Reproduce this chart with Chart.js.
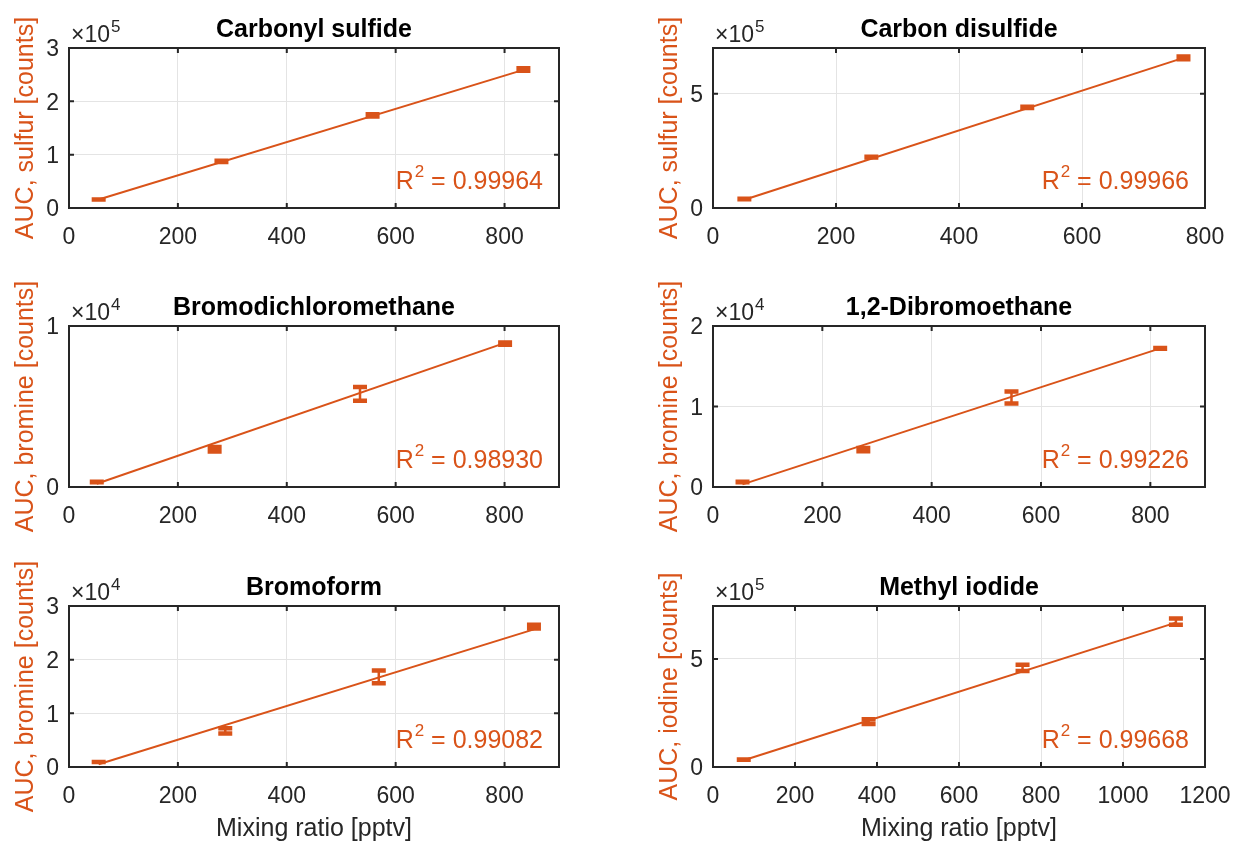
<!DOCTYPE html>
<html>
<head>
<meta charset="utf-8">
<script src="https://cdn.jsdelivr.net/npm/chart.js@4.4.1/dist/chart.umd.min.js"></script>
<style>
  body { margin: 0; background: #fff; overflow: hidden; }
  #fig { position: relative; width: 1235px; height: 843px; }
  #fig canvas { position: absolute; }
</style>
</head>
<body>
<div id="fig"></div>
<script>
//----------data (x in pptv, y in counts)

// tick labels
const xTicks900 = [0, 200, 400, 600, 800];
const xTicks800 = [0, 200, 400, 600, 800];
const xTicks1200 = [0, 200, 400, 600, 800, 1000, 1200];

// carbonyl sulfide
const cosX = [54.5, 280, 557.6, 834.6];
const cosY = [15900, 87400, 173500, 259500];
const cosErr = [100, 1100, 2050, 2330];
const cosFitX = [54.5, 834.6];
const cosFitY = [15800, 259000];
const cosYTicks = [0, 100000, 200000, 300000];

// carbon disulfide
const cs2X = [51, 257.5, 511, 765];
const cs2Y = [39000, 223000, 440000, 657000];
const cs2Err = [1100, 1700, 2600, 6100];
const cs2FitX = [51, 765];
const cs2FitY = [36000, 657000];
const cs2YTicks = [0, 500000];

// bromodichloromethane
const bdcmX = [51, 267.5, 534.5, 801];
const bdcmY = [310, 2340, 5790, 8910];
const bdcmErr = [16, 140, 428, 68];
const bdcmFitX = [51, 801];
const bdcmFitY = [200, 8950];
const bdcmYTicks = [0, 10000];

// 1,2-dibromoethane
const dbeX = [54, 275, 546, 818];
const dbeY = [620, 4650, 11120, 17220];
const dbeErr = [31, 199, 733, 50];
const dbeFitX = [54, 818];
const dbeFitY = [330, 17220];
const dbeYTicks = [0, 10000, 20000];

// bromoform
const bromX = [54.5, 287, 569, 854];
const bromY = [930, 6720, 16800, 26140];
const bromErr = [19, 484, 1192, 354];
const bromFitX = [54.5, 854];
const bromFitY = [500, 25640];
const bromYTicks = [0, 10000, 20000, 30000];

// methyl iodide
const meiX = [75, 379.5, 755, 1129];
const meiY = [34000, 210000, 459000, 673000];
const meiErr = [200, 11100, 14400, 14400];
const meiFitX = [75, 1129];
const meiFitY = [31000, 668000];
const meiYTicks = [0, 500000];

const orange = '#D95319';
const dark = '#262626';
const gridCol = '#e4e4e4';
const fontFam = "'Liberation Sans', Arial, Helvetica, sans-serif";
Chart.defaults.font.family = fontFam;

const panels = [
  {title: 'Carbonyl sulfide', ylab: 'AUC, sulfur [counts]', x: cosX, y: cosY, err: cosErr, fitX: cosFitX, fitY: cosFitY,
   xmax: 900, xticks: xTicks900, ymax: 300000, yticks: cosYTicks, exp: 5, r2: '0.99964', col: 0, row: 0},
  {title: 'Carbon disulfide', ylab: 'AUC, sulfur [counts]', x: cs2X, y: cs2Y, err: cs2Err, fitX: cs2FitX, fitY: cs2FitY,
   xmax: 800, xticks: xTicks800, ymax: 700000, yticks: cs2YTicks, exp: 5, r2: '0.99966', col: 1, row: 0},
  {title: 'Bromodichloromethane', ylab: 'AUC, bromine [counts]', x: bdcmX, y: bdcmY, err: bdcmErr, fitX: bdcmFitX, fitY: bdcmFitY,
   xmax: 900, xticks: xTicks900, ymax: 10000, yticks: bdcmYTicks, exp: 4, r2: '0.98930', col: 0, row: 1},
  {title: '1,2-Dibromoethane', ylab: 'AUC, bromine [counts]', x: dbeX, y: dbeY, err: dbeErr, fitX: dbeFitX, fitY: dbeFitY,
   xmax: 900, xticks: xTicks900, ymax: 20000, yticks: dbeYTicks, exp: 4, r2: '0.99226', col: 1, row: 1},
  {title: 'Bromoform', ylab: 'AUC, bromine [counts]', x: bromX, y: bromY, err: bromErr, fitX: bromFitX, fitY: bromFitY,
   xmax: 900, xticks: xTicks900, ymax: 30000, yticks: bromYTicks, exp: 4, r2: '0.99082', col: 0, row: 2},
  {title: 'Methyl iodide', ylab: 'AUC, iodine [counts]', x: meiX, y: meiY, err: meiErr, fitX: meiFitX, fitY: meiFitY,
   xmax: 1200, xticks: xTicks1200, ymax: 745000, yticks: meiYTicks, exp: 5, r2: '0.99668', col: 1, row: 2}
];

// canvas placement per column / row
const cols = [{left: 0, width: 617, padL: 0, padR: 58}, {left: 617, width: 618, padL: 27, padR: 30}];
const rows = [{top: 0, height: 278, xh: 70}, {top: 278, height: 280, xh: 71}, {top: 558, height: 285, xh: 76}];

// error bars, box, inward ticks, exponent and R^2 text
function decoPlugin(p) {
  return {
    id: 'deco',
    afterDatasetsDraw(chart) {
      const {ctx, scales: {x, y}} = chart;
      ctx.save();
      ctx.strokeStyle = orange;
      p.x.forEach((xv, i) => {
        const px = x.getPixelForValue(xv);
        const lo = y.getPixelForValue(p.y[i] - p.err[i]);
        const hi = y.getPixelForValue(p.y[i] + p.err[i]);
        ctx.lineWidth = 2.5;
        ctx.beginPath(); ctx.moveTo(px, lo); ctx.lineTo(px, hi); ctx.stroke();
        ctx.lineWidth = 4.5;
        ctx.beginPath();
        ctx.moveTo(px - 7, lo); ctx.lineTo(px + 7, lo);
        ctx.moveTo(px - 7, hi); ctx.lineTo(px + 7, hi);
        ctx.stroke();
      });
      ctx.restore();
    },
    afterDraw(chart) {
      const {ctx, chartArea: a, scales: {x, y}} = chart;
      ctx.save();
      ctx.strokeStyle = dark;
      ctx.lineWidth = 2;
      ctx.strokeRect(a.left, a.top, a.right - a.left, a.bottom - a.top);
      ctx.beginPath();
      p.xticks.forEach(v => {
        const px = x.getPixelForValue(v);
        ctx.moveTo(px, a.bottom); ctx.lineTo(px, a.bottom - 5);
        ctx.moveTo(px, a.top); ctx.lineTo(px, a.top + 5);
      });
      p.yticks.forEach(v => {
        const py = y.getPixelForValue(v);
        ctx.moveTo(a.left, py); ctx.lineTo(a.left + 5, py);
        ctx.moveTo(a.right, py); ctx.lineTo(a.right - 5, py);
      });
      ctx.stroke();

      // x10^n
      ctx.fillStyle = dark;
      ctx.textAlign = 'left';
      ctx.textBaseline = 'alphabetic';
      ctx.font = '23px ' + fontFam;
      ctx.fillText('\u00d710', a.left + 2, a.top - 6.5);
      const w10 = ctx.measureText('\u00d710').width;
      ctx.font = '17px ' + fontFam;
      ctx.fillText(String(p.exp), a.left + 2 + w10 + 1, a.top - 16.5);

      // R^2 text
      ctx.fillStyle = orange;
      ctx.textAlign = 'right';
      const base = a.bottom - 19.5;
      let xr = a.right - 16;
      ctx.font = '25px ' + fontFam;
      const rest = ' = ' + p.r2;
      ctx.fillText(rest, xr, base);
      xr -= ctx.measureText(rest).width;
      ctx.font = '17px ' + fontFam;
      ctx.fillText('2', xr, base - 12);
      xr -= ctx.measureText('2').width + 1;
      ctx.font = '25px ' + fontFam;
      ctx.fillText('R', xr, base);
      ctx.restore();
    }
  };
}

const fig = document.getElementById('fig');

panels.forEach(p => {
  const c = cols[p.col], r = rows[p.row];
  const cv = document.createElement('canvas');
  cv.width = c.width; cv.height = r.height;
  cv.style.left = c.left + 'px'; cv.style.top = r.top + 'px';
  fig.appendChild(cv);
  const scale = Math.pow(10, p.exp);

  new Chart(cv.getContext('2d'), {
    type: 'scatter',
    data: {
      datasets: [{
        type: 'line',
        data: p.fitX.map((v, i) => ({x: v, y: p.fitY[i]})),
        borderColor: orange,
        borderWidth: 2,
        pointRadius: 0,
        fill: false
      }, {
        data: p.x.map((v, i) => ({x: v, y: p.y[i]})),
        pointRadius: 0,
        showLine: false
      }]
    },
    options: {
      responsive: false,
      animation: false,
      layout: {padding: {left: c.padL, right: c.padR, top: 0, bottom: 0}},
      plugins: {
        legend: {display: false},
        tooltip: {enabled: false},
        title: {
          display: true, text: p.title, fullSize: false, color: '#000',
          font: {size: 25, weight: 'bold'}, padding: {top: 15, bottom: 3}
        }
      },
      scales: {
        x: {
          type: 'linear', min: 0, max: p.xmax,
          grid: {color: gridCol, drawTicks: false},
          border: {display: false},
          ticks: {color: dark, font: {size: 23}, padding: 15.5, maxRotation: 0, autoSkip: false,
                  callback: v => String(v)},
          afterBuildTicks: s => { s.ticks = p.xticks.map(v => ({value: v})); },
          afterFit: s => { s.height = r.xh; s.paddingLeft = 0; s.paddingRight = 0; },
          title: {display: p.row === 2, text: 'Mixing ratio [pptv]', color: dark,
                  font: {size: 25, lineHeight: 1.1}, padding: {top: 0, bottom: 0}}
        },
        y: {
          type: 'linear', min: 0, max: p.ymax,
          grid: {color: gridCol, drawTicks: false},
          border: {display: false},
          ticks: {color: dark, font: {size: 23}, padding: 10, labelOffset: 2, autoSkip: false,
                  callback: v => String(v / scale)},
          afterBuildTicks: s => { s.ticks = p.yticks.map(v => ({value: v})); },
          afterFit: s => { s.width = 69; s.paddingTop = 0; s.paddingBottom = 0; },
          title: {display: true, text: p.ylab, color: orange, font: {size: 25},
                  padding: {top: 11, bottom: 0}}
        }
      }
    },
    plugins: [decoPlugin(p)]
  });
});
</script>
</body>
</html>
